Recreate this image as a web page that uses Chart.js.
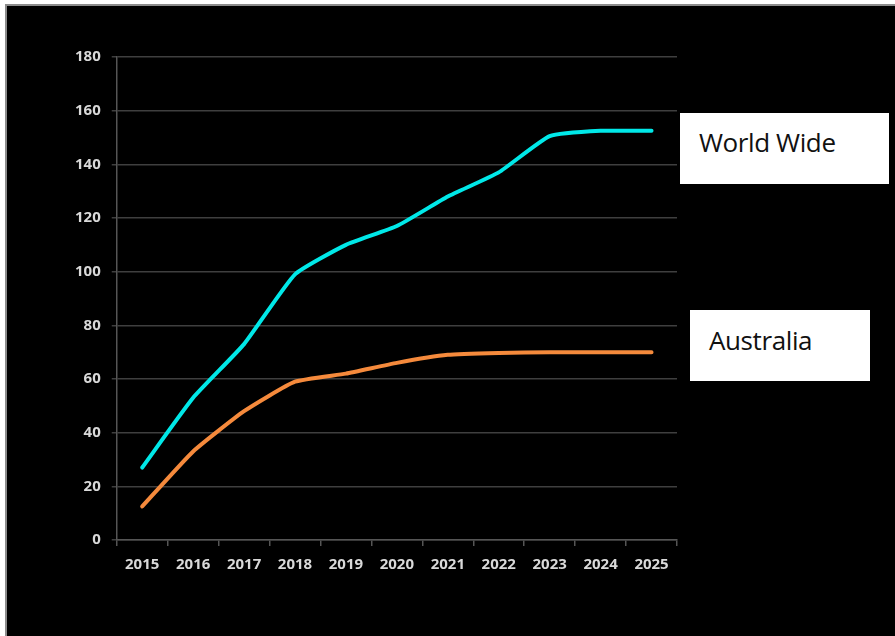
<!DOCTYPE html>
<html>
<head>
<meta charset="utf-8">
<script src="https://cdn.jsdelivr.net/npm/chart.js@4/dist/chart.umd.min.js"></script>
<style>
  html, body { margin: 0; padding: 0; background: #fff; }
  #frame {
    position: absolute; left: 5px; top: 4px; width: 900px; height: 640px;
    background: #000; border-top: 2px solid #8c8c8c; border-left: 2px solid #8c8c8c;
  }
  #wrap { position: absolute; left: 0; top: 0; width: 895px; height: 636px; }
  .tag {
    position: absolute; background: #fff; color: #111;
    font-family: "Open Sans", "Noto Sans", sans-serif; font-size: 26px;
    box-sizing: border-box; padding-left: 19px; letter-spacing: -0.4px;
  }
</style>
</head>
<body>
<div id="frame"></div>
<div id="wrap"><canvas id="growthChart"></canvas></div>
<div class="tag" style="left:680px; top:113px; width:209px; height:71px; line-height:58px;">World Wide</div>
<div class="tag" style="left:690px; top:310px; width:180px; height:71px; line-height:60px;">Australia</div>
<script>
// Years along the bottom
const years = ['2015', '2016', '2017', '2018', '2019', '2020', '2021', '2022', '2023', '2024', '2025'];

// Values
const worldWide = [27, 53, 73, 99, 110, 117, 128, 137, 150.5, 152.5, 152.5];
const australia = [12.5, 33, 48, 59, 62, 66, 69, 69.7, 70, 70, 70];

// Y axis range
const yMin = 0;
const yMax = 180;
const yStep = 20;

function drawGrowthChart() {
    const ctx = document.getElementById('growthChart').getContext('2d');
    const tickFont = { family: 'Open Sans', weight: 'bold', size: 15 };

    new Chart(ctx, {
        type: 'line',
        data: {
            labels: years,
            datasets: [{
                label: 'World Wide',
                data: worldWide,
                borderColor: '#00e8e8',
                borderWidth: 4,
                pointRadius: 0,
                tension: 0.15,
                borderCapStyle: 'round'
            }, {
                label: 'Australia',
                data: australia,
                borderColor: '#f58a3c',
                borderWidth: 4,
                pointRadius: 0,
                tension: 0.15,
                borderCapStyle: 'round'
            }]
        },
        options: {
            responsive: true,
            maintainAspectRatio: false,
            animation: false,
            layout: {
                padding: { left: 64, right: 218, top: 57, bottom: 52 }
            },
            plugins: {
                legend: { display: false },
                tooltip: { enabled: false }
            },
            scales: {
                x: {
                    offset: true,
                    grid: {
                        offset: true,
                        drawOnChartArea: false,
                        color: '#555',
                        lineWidth: 1.5,
                        tickLength: 6
                    },
                    border: { color: '#555', width: 1.5 },
                    ticks: {
                        color: '#d9d9d9',
                        padding: 10,
                        font: tickFont
                    }
                },
                y: {
                    min: yMin,
                    max: yMax,
                    grid: {
                        color: '#3f3f3f',
                        lineWidth: 1.5,
                        tickLength: 5
                    },
                    border: { color: '#555', width: 1.5 },
                    ticks: {
                        stepSize: yStep,
                        color: '#d9d9d9',
                        padding: 11,
                        font: tickFont
                    }
                }
            }
        }
    });
}

drawGrowthChart();
</script>
</body>
</html>
